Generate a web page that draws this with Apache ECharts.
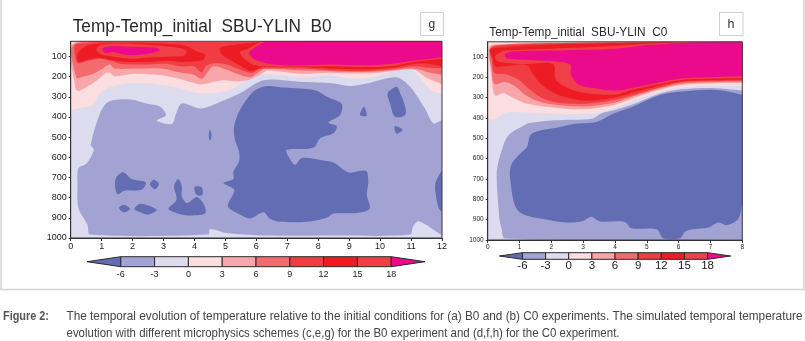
<!DOCTYPE html>
<html><head><meta charset="utf-8">
<style>html,body{margin:0;padding:0;background:#fff}#c{width:805px;height:341px}</style>
<script src="https://cdn.jsdelivr.net/npm/echarts@6/dist/echarts.min.js"></script>
</head><body><div id="c"></div>
<script>
// colour per temperature band
const cBelow6='#636db3', cM6='#a3a3d3', cM3='#dcdcee', c0='#fcdde0', c3='#f9a6aa', c6='#f36b6f', c9='#ef3d43', c12='#ed1c24', c15='#ef4047', c18='#ec0a8c';
const barLevels=[-6,-3,0,3,6,9,12,15,18];
const barColors=[cBelow6,cM6,cM3,c0,c3,c6,c9,c12,c15,c18];
const pressureTicks=[100,200,300,400,500,600,700,800,900,1000];

// ---- Panel g (B0): contour outlines as [month, pressure hPa] ----
const gFull=[[0,25],[12,25],[12,1000],[0,1000]];
const gT0=[[0,25],[0,366],[.41,353],[.73,341],[.95,283],[1.27,254],[1.81,234],[2.56,234],[3.43,254],[4.18,283],[4.72,280],[5.26,259],[5.9,193],[6.34,186],[7.41,203],[8.38,193],[9.03,209],[9.78,203],[10.43,173],[11.02,165],[11.29,206],[11.62,264],[12,290],[12,25]];
const gT3=[[.07,37],[.15,255],[.24,272],[.56,247],[.88,214],[1.15,181],[1.26,181],[1.42,198],[2.07,186],[2.93,193],[3.58,214],[3.97,231],[4.18,239],[4.93,218],[5.37,223],[5.8,214],[6.17,186],[6.39,170],[7.41,186],[8.38,181],[9.46,185],[10.38,173],[11.08,165],[11.51,206],[12,239],[12,25],[5.8,30],[2,33]];
const gT6=[[.1,41],[.18,206],[.34,203],[.67,190],[.99,165],[1.26,140],[1.42,160],[2.07,160],[2.93,160],[3.58,181],[3.97,190],[4.23,211],[4.45,173],[4.61,149],[4.93,160],[5.37,186],[5.8,203],[6.12,173],[6.28,160],[7.41,170],[8.38,173],[9.46,176],[10.38,168],[11.08,160],[11.62,181],[12,190],[12,25],[5.8,28],[2,30]];
const gT9=[[.13,45],[.22,132],[.56,121],[.99,111],[1.26,121],[1.64,137],[2.5,140],[3.15,137],[3.58,149],[3.97,149],[4.23,178],[4.4,144],[4.72,132],[5.04,140],[5.47,165],[5.85,181],[6.12,162],[7.41,160],[8.38,168],[9.46,173],[10.32,165],[11.08,149],[11.62,157],[12,157],[12,25],[5.8,28],[2.5,28],[1,29],[.4,36]];
const gT12a=[[.34,66],[.22,91],[.24,127],[.56,116],[.88,107],[1.26,116],[1.75,127],[2.5,127],[3.15,121],[3.58,127],[3.97,124],[4.29,116],[4.34,91],[4.07,74],[3.75,50],[3.53,41],[2.07,32],[1,35],[.56,45]];
const gT12b=[[4.83,58],[4.88,91],[5.15,116],[5.42,140],[5.8,173],[6.07,160],[6.23,150],[7.41,153],[8.38,160],[9.46,165],[10.32,157],[11.08,137],[11.62,137],[12,149],[12,25],[6.3,25],[5.8,33],[5.15,45]];
const gT15a=[[.83,66],[.99,91],[1.31,99],[1.96,111],[2.61,104],[3.53,99],[3.64,99],[3.75,74],[3.53,58],[2.07,38],[1,41]];
const gT15b=[[5.47,78],[5.58,107],[5.85,137],[6.17,149],[7.41,150],[8.38,149],[9.46,153],[10.32,149],[11.08,127],[12,111],[12,25],[6.3,25],[6.12,28],[5.69,66]];
const gT18a=[[1.02,61],[1.12,83],[1.37,78],[1.64,88],[1.96,94],[2.61,84],[2.88,68],[2.72,56],[1.96,53],[1.31,50]];
const gT18b=[[5.77,83],[5.91,111],[6.17,127],[6.55,140],[7.41,145],[8.38,140],[9.46,144],[10.32,137],[11.08,121],[12,104],[12,25],[6.28,28],[5.96,55]];
const gCold3=[[.65,539],[.95,382],[1.22,325],[1.92,313],[2.46,333],[2.89,349],[3.08,390],[2.78,418],[3.27,435],[3.41,382],[3.59,333],[4.18,358],[4.72,333],[5.47,283],[6.23,218],[7.41,226],[8.49,234],[9.03,247],[9.57,234],[10.54,204],[10.97,250],[11.45,358],[11.72,431],[12,415],[12,989],[11.72,958],[11.24,917],[11.06,945],[10.97,983],[8.49,988],[6.34,988],[5.04,975],[4.5,955],[4.45,983],[.63,983],[.54,934],[.25,851],[.22,728],[.25,654],[.52,629],[.75,563]];
const gCold6Main=[[6.34,247],[6.875,254],[7.41,259],[7.95,270],[8.28,300],[8.76,336],[8.71,390],[8.33,427],[8.6,445],[8.49,481],[8.06,506],[7.9,547],[7.68,558],[6.98,563],[7.04,596],[7.25,637],[7.47,604],[8.06,613],[8.49,626],[8.98,675],[9.54,667],[9.62,719],[9.57,785],[9.66,855],[9.25,876],[8.49,879],[8.28,900],[7.63,920],[6.77,920],[6.44,905],[6.23,872],[5.8,903],[5.47,884],[5.08,843],[5.29,761],[4.94,728],[5.26,708],[5.26,670],[5.44,621],[5.44,571],[5.31,514],[5.28,448],[5.47,366],[5.9,275]];
const gCold6B=[[9.48,349],[9.57,394],[9.35,390]];
const gCold6C=[[10.27,275],[10.54,250],[10.65,283],[10.81,349],[10.81,390],[10.48,399],[10.32,333],[10.24,292]];
const gCold6D=[[10.48,445],[10.73,464],[10.54,484],[10.47,464]];
const gCold6E=[[4.5,464],[4.55,494],[4.5,517],[4.46,494]];
const gCold6F=[[1.43,728],[1.49,695],[1.7,674],[1.97,708],[2.43,725],[2.29,761],[1.76,764],[1.51,782]];
const gCold6G=[[2.56,733],[2.69,711],[2.85,731],[2.73,758]];
const gCold6H=[[1.56,851],[1.72,835],[1.92,855],[1.72,873]];
const gCold6I=[[2.06,856],[2.26,830],[2.78,860],[2.51,884],[2.24,871]];
const gCold6J=[[3.16,855],[3.42,810],[3.34,744],[3.48,708],[3.59,744],[3.59,794],[3.77,827],[4.07,797],[4.31,835],[4.34,879],[3.8,888],[3.43,877]];
const gCold6K=[[4.0,748],[4.23,748],[4.26,786],[4.07,786]];
const gCold6L=[[12,662],[11.78,736],[11.89,851],[12,871]];

// ---- Panel h (C0) ----
const hFull=[[0,25],[8,25],[8,1000],[0,1000]];
const hT0=[[0,25],[.02,403],[.23,403],[.49,378],[.7,370],[1.75,376],[2.48,381],[3.32,378],[3.58,371],[4,351],[4.52,319],[5.05,289],[5.41,271],[6.09,249],[7.14,241],[8,243],[8,25]];
const hT3=[[.06,46],[.1,170],[.23,289],[.49,277],[.81,302],[1.17,327],[1.8,343],[2.53,355],[3.16,355],[4,335],[4.52,305],[5.41,261],[6.09,238],[7.14,229],[8,228],[8,25],[5,26],[2,30],[.6,36]];
const hT6=[[.08,55],[.13,170],[.21,233],[.54,223],[.86,244],[1.17,285],[1.59,318],[2.12,335],[3.06,343],[4,323],[4.52,297],[5.41,254],[6.09,231],[7.14,223],[8,220],[8,25],[5,27],[2,31],[.6,38]];
const hT9=[[.1,55],[.13,120],[.21,178],[.54,183],[.96,211],[1.33,261],[1.7,302],[2.12,322],[3.06,330],[4,310],[4.52,289],[5.41,249],[6.09,224],[7.14,218],[8,215],[8,25],[5,27],[2,32],[.6,40]];
const hT12=[[.07,63],[.15,104],[.23,145],[.54,145],[1.22,140],[1.43,186],[1.64,228],[1.91,261],[2.27,289],[3.06,315],[4,299],[4.52,277],[5.41,241],[6.09,220],[7.14,213],[8,210],[8,25],[6.3,25],[4.5,30],[2,38],[.6,50]];
const hT15=[[.39,79],[.23,96],[.28,120],[.6,129],[1.17,134],[2.06,134],[2.14,211],[2.53,253],[3.06,277],[4,285],[4.52,261],[5.41,233],[6.09,213],[7.14,206],[8,203],[8,25],[6.3,25],[5.05,35],[4,46],[2.01,59],[.54,68]];
const hT18=[[.54,88],[.7,74],[2.01,68],[4,59],[5.05,41],[6.41,28],[8,25],[8,195],[7.14,198],[6.09,206],[5.41,224],[4.52,253],[4,266],[3.37,253],[2.85,236],[2.62,187],[2.59,137],[2.01,120],[.6,107]];
const hCold3=[[1.02,447],[1.28,426],[1.8,414],[2.53,409],[3.27,404],[3.58,376],[4,360],[4.52,335],[5.41,279],[6.09,259],[7.14,253],[8,264],[8,998],[.54,993],[.44,947],[.37,898],[.28,675],[.36,600],[.44,560],[.55,510],[.7,477]];
const hCold6=[[1.38,477],[2.27,444],[2.74,428],[3.42,419],[3.95,378],[4.52,347],[5.41,287],[6.09,269],[7.14,261],[8,285],[8,824],[7.87,898],[7.51,927],[7.25,914],[6.93,939],[6.46,947],[6.2,959],[6.04,992],[5.52,992],[5.31,947],[4.52,942],[4.31,911],[3.53,909],[3.25,886],[3,906],[2.48,914],[1.96,903],[.96,857],[.7,691],[.75,626],[1.02,576],[1.23,543]];

const gLayers=[[gFull,cM3],[gT0,c0],[gT3,c3],[gT6,c6],[gT9,c9],[gT12a,c12],[gT12b,c12],[gT15a,c15],[gT15b,c15],[gT18a,c18],[gT18b,c18],
 [gCold3,cM6],[gCold6Main,cBelow6],[gCold6B,cBelow6],[gCold6C,cBelow6],[gCold6D,cBelow6],[gCold6E,cBelow6],[gCold6F,cBelow6],[gCold6G,cBelow6],[gCold6H,cBelow6],[gCold6I,cBelow6],[gCold6J,cBelow6],[gCold6K,cBelow6],[gCold6L,cBelow6]];
const hLayers=[[hFull,cM3],[hT0,c0],[hT3,c3],[hT6,c6],[hT9,c9],[hT12,c12],[hT15,c15],[hT18,c18],[hCold3,cM6],[hCold6,cBelow6]];

function fit(text,font,w){const c=document.createElement('canvas').getContext('2d');c.font=font;return w/c.measureText(text).width;}
function txt(text,x,y,font,color,w){
  const scale=w?fit(text,font,w):1;
  return {type:'text',x:x,y:y,scaleX:scale,z:50,silent:true,style:{text:text,font:font,fill:color,verticalAlign:'middle',align:'left'}};
}
// Points on the plot frame stay sharp: a doubled point has no curvature in the bezier smoothing.
function polySeries(pts,color,ax,xMax){
  return {type:'custom',coordinateSystem:'cartesian2d',xAxisIndex:ax,yAxisIndex:ax,silent:true,z:2,clip:true,data:pts,
    encode:{x:0,y:1},animation:false,
    renderItem:(p,api)=>{
      if(p.dataIndex!==0)return null;
      const out=[];
      pts.forEach(q=>{const c=api.coord(q);out.push(c);if(q[0]===0||q[0]===xMax||q[1]===25||q[1]===1000)out.push(c.slice());});
      return {type:'polygon',shape:{points:out,smooth:0.3},style:{fill:color}};
    }};
}
function frameSeries(ax,full){
  return {type:'custom',coordinateSystem:'cartesian2d',xAxisIndex:ax,yAxisIndex:ax,silent:true,z:3,clip:false,data:full,
    encode:{x:0,y:1},animation:false,
    renderItem:(p,api)=>p.dataIndex!==0?null:({type:'polygon',shape:{points:full.map(q=>api.coord(q))},style:{fill:'none',stroke:'#3a3a3a',lineWidth:1}})};
}
function barSeries(ax){
  const rows=[[-9,-6,0]];
  for(let i=0;i<barLevels.length-1;i++)rows.push([barLevels[i],barLevels[i+1],i+1]);
  rows.push([18,21,9]);
  return {type:'custom',coordinateSystem:'cartesian2d',xAxisIndex:ax,yAxisIndex:ax,silent:true,z:3,clip:false,data:rows,
    encode:{x:[0,1]},animation:false,
    renderItem:(p,api)=>{
      const a=api.value(0),b=api.value(1),ci=api.value(2);
      let pts;
      if(ci===0)pts=[[a,.5],[b,1],[b,0]];
      else if(ci===9)pts=[[a,1],[b,.5],[a,0]];
      else pts=[[a,1],[b,1],[b,0],[a,0]];
      return {type:'polygon',shape:{points:pts.map(q=>api.coord(q))},style:{fill:barColors[ci],stroke:'#2a2a2a',lineWidth:1}};
    }};
}
const axisFont='"Liberation Sans",sans-serif';
function plotAxes(xMax,size,tick){
  return {
   x:{type:'value',min:0,max:xMax,interval:1,splitLine:{show:false},z:5,
      axisLine:{show:true,onZero:false,lineStyle:{color:'#333',width:1}},
      axisTick:{show:true,length:tick,lineStyle:{color:'#333'}},
      axisLabel:{show:true,fontSize:size,margin:tick+1,color:'#222',fontFamily:axisFont,hideOverlap:false,showMinLabel:true,showMaxLabel:true,formatter:v=>String(v)}},
   y:{type:'value',inverse:true,min:25,max:1000,splitLine:{show:false},z:5,
      axisLine:{show:true,onZero:false,lineStyle:{color:'#333',width:1}},
      axisTick:{show:true,length:tick-1,customValues:pressureTicks,lineStyle:{color:'#333'}},
      axisLabel:{show:true,fontSize:size,margin:tick+1,color:'#222',fontFamily:axisFont,customValues:pressureTicks,hideOverlap:false,formatter:v=>String(v)}}
  };
}
function barAxes(size,margin,family){
  return {
   x:{type:'value',min:-9,max:21,splitLine:{show:false},axisLine:{show:false},axisTick:{show:false},
      axisLabel:{show:true,fontSize:size,margin:margin,color:'#222',fontFamily:family,customValues:barLevels,hideOverlap:false,formatter:v=>String(v)}},
   y:{type:'value',min:0,max:1,show:false}
  };
}
const A=plotAxes(12,9,3),B=plotAxes(6.5,6.5,3);
A.x.max=12;B.x.max=8;
const C=barAxes(9,3,axisFont),D=barAxes(11.5,1,axisFont);
const TI='"Liberation Sans",sans-serif';
const option={
 animation:false,backgroundColor:'#fff',
 grid:[
  {left:70.7,top:41.3,width:371.3,height:196.7},
  {left:487.7,top:41.8,width:254.6,height:198.2},
  {left:87,top:256.7,width:338,height:10},
  {left:499.3,top:252.7,width:231.4,height:6.6}],
 xAxis:[Object.assign({gridIndex:0},A.x),Object.assign({gridIndex:1},B.x),Object.assign({gridIndex:2},C.x),Object.assign({gridIndex:3},D.x)],
 yAxis:[Object.assign({gridIndex:0},A.y),Object.assign({gridIndex:1},B.y),Object.assign({gridIndex:2},C.y),Object.assign({gridIndex:3},D.y)],
 series:[].concat(
   gLayers.map(l=>polySeries(l[0],l[1],0,12)),[frameSeries(0,gFull)],
   hLayers.map(l=>polySeries(l[0],l[1],1,8)),[frameSeries(1,hFull)],
   [barSeries(2),barSeries(3)]),
 graphic:{elements:[
  {type:'polyline',z:40,silent:true,shape:{points:[[1,0],[1,289.5],[804,289.5],[804,0]]},style:{fill:'none',stroke:'#d4d4d4',lineWidth:1.5}},
  txt('Temp-Temp_initial  SBU-YLIN  B0',72.7,27,'17.5px '+TI,'#2a2a2a',259),
  txt('Temp-Temp_initial  SBU-YLIN  C0',489.3,32.5,'13.5px '+TI,'#2a2a2a',178),
  {type:'rect',z:40,silent:true,shape:{x:420.7,y:12.5,width:22.6,height:23},style:{fill:'#fff',stroke:'#cfcfcf',lineWidth:1}},
  {type:'rect',z:40,silent:true,shape:{x:719.5,y:12.5,width:23.5,height:23},style:{fill:'#fff',stroke:'#cfcfcf',lineWidth:1}},
  txt('g',428.5,25,'12px '+TI,'#333'),
  txt('h',727.5,24.5,'12.5px '+TI,'#333'),
  txt('Figure 2:',3,316.5,'bold 13px '+TI,'#555',46),
  txt('The temporal evolution of temperature relative to the initial conditions for (a) B0 and (b) C0 experiments. The simulated temporal temperature',66.5,316.5,'13px '+TI,'#444',736),
  txt('evolution with different microphysics schemes (c,e,g) for the B0 experiment and (d,f,h) for the C0 experiment.',66.5,333.5,'13px '+TI,'#444',553)
 ]}
};
echarts.init(document.getElementById('c'),null,{renderer:'canvas'}).setOption(option);
</script></body></html>
